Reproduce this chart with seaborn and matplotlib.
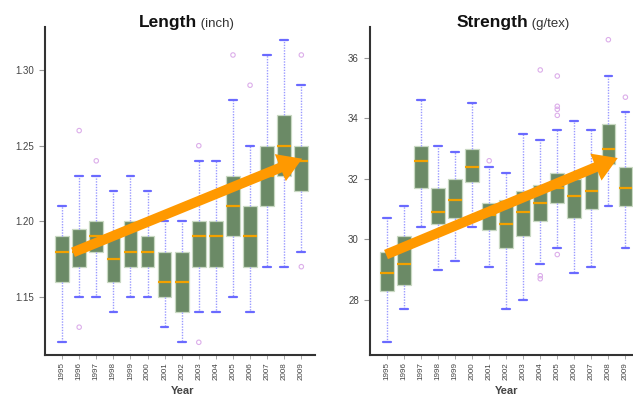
import numpy as np
import pandas as pd
import matplotlib
matplotlib.use("Agg")
import matplotlib.pyplot as plt
import seaborn as sns

# ---------------- data ----------------
years = [str(y) for y in range(1995, 2010)]

len_low  = [1.12, 1.15, 1.15, 1.14, 1.15, 1.15, 1.13, 1.12, 1.14, 1.14, 1.15, 1.14, 1.17, 1.17, 1.18]
len_q1   = [1.16, 1.17, 1.18, 1.16, 1.17, 1.17, 1.15, 1.14, 1.17, 1.17, 1.19, 1.17, 1.21, 1.23, 1.22]
len_med  = [1.18, 1.18, 1.19, 1.175, 1.18, 1.18, 1.16, 1.16, 1.19, 1.19, 1.21, 1.19, 1.23, 1.25, 1.24]
len_q3   = [1.19, 1.195, 1.20, 1.19, 1.20, 1.19, 1.18, 1.18, 1.20, 1.20, 1.23, 1.21, 1.25, 1.27, 1.25]
len_high = [1.21, 1.23, 1.23, 1.22, 1.23, 1.22, 1.20, 1.20, 1.24, 1.24, 1.28, 1.25, 1.31, 1.32, 1.29]
len_out_year = ["1996", "1996", "1997", "2003", "2003", "2005", "2006", "2009", "2009"]
len_out_val  = [1.26, 1.13, 1.24, 1.25, 1.12, 1.31, 1.29, 1.31, 1.17]
len_arrow_x = [0.64, 14.05]
len_arrow_y = [1.1795, 1.2414]
len_yticks = [1.15, 1.20, 1.25, 1.30]

str_low  = [26.6, 27.7, 30.4, 29.0, 29.3, 30.4, 29.1, 27.7, 28.0, 29.2, 29.7, 28.9, 29.1, 31.1, 29.7]
str_q1   = [28.3, 28.5, 31.7, 30.5, 30.7, 31.9, 30.3, 29.7, 30.1, 30.6, 31.2, 30.7, 31.0, 32.5, 31.1]
str_med  = [28.9, 29.2, 32.6, 30.9, 31.3, 32.4, 30.8, 30.5, 30.9, 31.2, 31.7, 31.45, 31.6, 33.0, 31.7]
str_q3   = [29.6, 30.1, 33.1, 31.7, 32.0, 33.0, 31.2, 31.3, 31.6, 31.8, 32.2, 32.0, 32.3, 33.8, 32.4]
str_high = [30.7, 31.1, 34.6, 33.1, 32.9, 34.5, 32.4, 32.2, 33.5, 33.3, 33.6, 33.9, 33.6, 35.4, 34.2]
str_out_year = ["2001", "2004", "2004", "2004", "2005", "2005", "2005", "2005", "2005", "2008", "2009"]
str_out_val  = [32.6, 35.6, 28.8, 28.7, 35.4, 34.4, 34.3, 34.1, 29.5, 36.6, 34.7]
str_arrow_x = [-0.06, 13.55]
str_arrow_y = [29.5, 32.69]
str_yticks = [28, 30, 32, 34, 36]

# ---------------- style ----------------
sns.set_style("white")
plt.rcParams["font.family"] = ["Liberation Sans", "DejaVu Sans"]

W, H = 633, 396
fig = plt.figure(figsize=(W / 100, H / 100), dpi=100)

BOX = "#6b8a66"
EDGE = "#c9d9c3"
MED = "#f2a100"
WHISK = "#9a9aff"
CAP = "#6a6aff"
OUT = "#dcaeea"
ARROW = "#ff9900"


def five_num_frame(low, q1, med, q3, high):
    rows = []
    for i, yr in enumerate(years):
        for v in (low[i], q1[i], med[i], q3[i], high[i]):
            rows.append((yr, v))
    return pd.DataFrame(rows, columns=["Year", "value"])


def panel(ax, low, q1, med, q3, high, oy, ov, ax_x, ax_y, yticks, ylim, fmt):
    df = five_num_frame(low, q1, med, q3, high)
    sns.boxplot(data=df, x="Year", y="value", order=years, ax=ax,
                width=0.8, color=BOX, saturation=1, linecolor=EDGE,
                linewidth=0.9, whis=(0, 100),
                whiskerprops=dict(color=WHISK, linestyle=(0, (1, 1)), linewidth=1.0),
                capprops=dict(color=CAP, linewidth=1.6),
                medianprops=dict(color=MED, linewidth=1.6),
                capwidths=0.45)
    odf = pd.DataFrame({"Year": oy, "value": ov})
    n_before = len(ax.collections)
    sns.stripplot(data=odf, x="Year", y="value", order=years, ax=ax,
                  jitter=False, color=OUT, size=3.2, linewidth=0.8,
                  edgecolor=OUT, zorder=4)
    for c in ax.collections[n_before:]:
        c.set_facecolor("none")
        c.set_edgecolor(OUT)
    ax.annotate("", xy=(ax_x[1], ax_y[1]), xytext=(ax_x[0], ax_y[0]),
                arrowprops=dict(arrowstyle="simple,head_length=1.7,head_width=2.1,tail_width=0.72",
                                color=ARROW, mutation_scale=10, shrinkA=0, shrinkB=0,
                                lw=0),
                zorder=5)
    ax.set_xlim(-1.0, 14.8)
    ax.set_ylim(*ylim)
    ax.set_yticks(yticks)
    ax.set_yticklabels([fmt.format(t) for t in yticks])
    ax.set_xticks(range(len(years)))
    ax.set_xticklabels(years, rotation=90)
    ax.set_xlabel("")
    ax.set_ylabel("")
    for s in ("top", "right"):
        ax.spines[s].set_visible(False)
    for s in ("left", "bottom"):
        ax.spines[s].set_color("#333333")
        ax.spines[s].set_linewidth(1.5)
    ax.tick_params(axis="y", left=True, length=4, width=0.8, color="#999999",
                   labelsize=7, labelcolor="#444444", pad=4)
    ax.tick_params(axis="x", bottom=True, length=3, width=0.6, color="#999999",
                   labelsize=5.8, labelcolor="#444444", pad=2)


ax1 = fig.add_axes([45 / W, 41 / H, 270 / W, 328 / H])
panel(ax1, len_low, len_q1, len_med, len_q3, len_high, len_out_year, len_out_val,
      len_arrow_x, len_arrow_y, len_yticks, (1.1116, 1.3285), "{:.2f}")

ax2 = fig.add_axes([370 / W, 41 / H, 269 / W, 328 / H])
panel(ax2, str_low, str_q1, str_med, str_q3, str_high, str_out_year, str_out_val,
      str_arrow_x, str_arrow_y, str_yticks, (26.18, 37.02), "{:d}")


def two_part_title(cx, base, bold, light):
    r = fig.canvas.get_renderer()
    t1 = fig.text(0, 0, bold, fontsize=12.5, fontweight="bold", color="#111111", va="baseline")
    t2 = fig.text(0, 0, " " + light, fontsize=9.5, color="#333333", va="baseline")
    w1 = t1.get_window_extent(r).width
    w2 = t2.get_window_extent(r).width
    x0 = cx - (w1 + w2) / 2
    t1.set_position((x0 / W, (H - base) / H))
    t2.set_position(((x0 + w1) / W, (H - base) / H))


fig.canvas.draw()
two_part_title(186, 27, "Length", "(inch)")
two_part_title(513, 27, "Strength", "(g/tex)")

fig.text(183 / W, (H - 390.5) / H, "Year", ha="center", va="center",
         fontsize=8, fontweight="bold", color="#444444")
fig.text(507 / W, (H - 390.5) / H, "Year", ha="center", va="center",
         fontsize=8, fontweight="bold", color="#444444")

fig.savefig("out.png", dpi=100)
